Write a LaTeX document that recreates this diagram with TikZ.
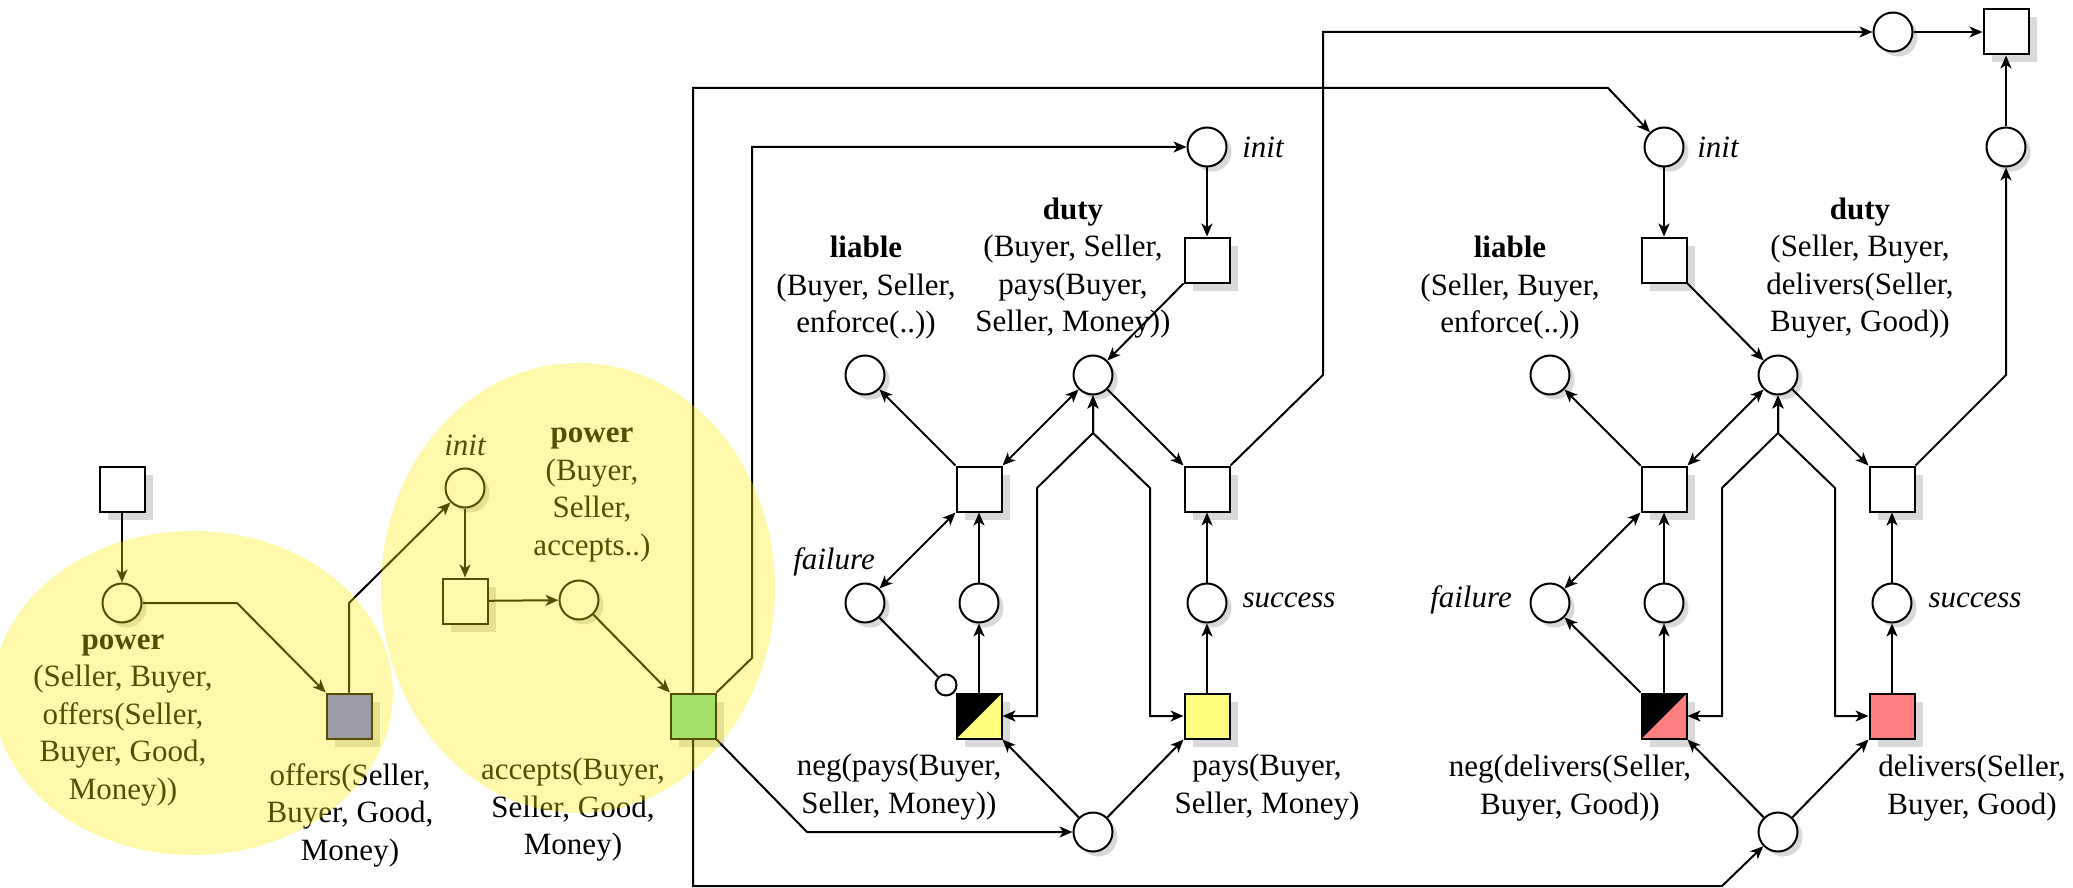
\documentclass[tikz,border=0pt]{standalone}
\usepackage{fontspec}
\setmainfont{Liberation Serif}
\usetikzlibrary{arrows.meta,shadows}
\definecolor{gsq}{RGB}{112,112,250}
\definecolor{gre}{RGB}{117,218,158}
\definecolor{yel}{RGB}{255,255,128}
\definecolor{pnk}{RGB}{255,128,128}
\begin{document}
\begin{tikzpicture}[x=0.5pt,y=-0.5pt,
  txt/.style={font=\fontsize{15.5}{18.75}\selectfont,align=center,inner sep=0pt},
  ln/.style={line width=1pt,draw=black},
  pl/.style={circle,draw,line width=1pt,minimum size=19.5pt,inner sep=0pt,fill=white,
    drop shadow={shadow xshift=2.5pt,shadow yshift=-2.5pt,fill=black!15,opacity=1}},
  tr/.style={rectangle,draw,line width=1pt,minimum size=22.5pt,inner sep=0pt,fill=white,
    drop shadow={shadow xshift=4pt,shadow yshift=-4pt,fill=black!15,opacity=1}},
  negsq/.style={tr,path picture={\fill[black] (path picture bounding box.north west) -- (path picture bounding box.north east) -- (path picture bounding box.south west) -- cycle;}},
  arr/.style={ln,-{Stealth[length=6.5pt,width=5.5pt,inset=1.8pt]}},
  darr/.style={ln,{Stealth[length=6.5pt,width=5.5pt,inset=1.8pt]}-{Stealth[length=6.5pt,width=5.5pt,inset=1.8pt]}},
  hl/.style={fill=yellow,fill opacity=0.33,draw=none}
]
\useasboundingbox (0,0) rectangle (2073,888);
\fill[white] (0,0) rectangle (2073,888);

% ---------- left part ----------
\node[tr] (s0) at (122,489) {};
\node[pl] (p0) at (122,603) {};
\node[tr,fill=gsq] (tg) at (349,716) {};
\node[pl] (pi) at (465,488) {};
\node[tr] (t1) at (465,601) {};
\node[pl] (p1) at (579,600) {};
\node[tr,fill=gre] (gr) at (693,716) {};

\node[txt] (lp0) at (123,720) {\textbf{power}\\(Seller, Buyer,\\offers(Seller,\\Buyer, Good,\\Money))};
\node[txt] (ltg) at (350,815) {offers(Seller,\\Buyer, Good,\\Money)};
\node[txt,font=\fontsize{15.5}{18.75}\selectfont\itshape] (lpi) at (465,445) {init};
\node[txt] (lp1) at (592,495) {\textbf{power}\\(Buyer,\\Seller,\\accepts..)};
\node[txt] (lgr) at (573,810) {accepts(Buyer,\\Seller, Good,\\Money)};

% ---------- middle part (pays) ----------
\node[pl] (i1) at (1207,147) {};
\node[tr] (q1) at (1207,260) {};
\node[pl] (li1) at (865,375) {};
\node[pl] (d1) at (1093,375) {};
\node[tr] (la1) at (979,489) {};
\node[tr] (ra1) at (1207,489) {};
\node[pl] (f1) at (865,603) {};
\node[pl] (m1) at (979,603) {};
\node[pl] (s1) at (1207,603) {};
\node[negsq,fill=yel] (n1) at (979,716) {};
\node[tr,fill=yel] (y1) at (1207,716) {};
\node[pl] (b1) at (1093,832) {};
\node[circle,draw,line width=1pt,minimum size=10.5pt,inner sep=0pt,fill=white] (inh) at (946,685) {};

\node[txt,font=\fontsize{15.5}{18.75}\selectfont\itshape] (li1t) at (1263,147) {init};
\node[txt] (lli1) at (866,288) {\textbf{liable}\\(Buyer, Seller,\\enforce(..))};
\node[txt] (ld1) at (1073,268) {\textbf{duty}\\(Buyer, Seller,\\pays(Buyer,\\Seller, Money))};
\node[txt,font=\fontsize{15.5}{18.75}\selectfont\itshape] (lf1) at (834,562) {failure};
\node[txt,font=\fontsize{15.5}{18.75}\selectfont\itshape] (ls1) at (1289,600) {success};
\node[txt] (ln1) at (899,787) {neg(pays(Buyer,\\Seller, Money))};
\node[txt] (ly1) at (1267,787) {pays(Buyer,\\Seller, Money)};

% ---------- right part (delivers) ----------
\node[pl] (i2) at (1664,147) {};
\node[tr] (q2) at (1664,260) {};
\node[pl] (li2) at (1550,375) {};
\node[pl] (d2) at (1778,375) {};
\node[tr] (la2) at (1664,489) {};
\node[tr] (ra2) at (1892,489) {};
\node[pl] (f2) at (1550,603) {};
\node[pl] (m2) at (1664,603) {};
\node[pl] (s2) at (1892,603) {};
\node[negsq,fill=pnk] (n2) at (1664,716) {};
\node[tr,fill=pnk] (y2) at (1892,716) {};
\node[pl] (b2) at (1778,832) {};

\node[txt,font=\fontsize{15.5}{18.75}\selectfont\itshape] (li2t) at (1718,147) {init};
\node[txt] (lli2) at (1510,288) {\textbf{liable}\\(Seller, Buyer,\\enforce(..))};
\node[txt] (ld2) at (1860,268) {\textbf{duty}\\(Seller, Buyer,\\delivers(Seller,\\Buyer, Good))};
\node[txt,font=\fontsize{15.5}{18.75}\selectfont\itshape] (lf2) at (1471,600) {failure};
\node[txt,font=\fontsize{15.5}{18.75}\selectfont\itshape] (ls2) at (1975,600) {success};
\node[txt] (ln2) at (1570,788) {neg(delivers(Seller,\\Buyer, Good))};
\node[txt] (ly2) at (1972,788) {delivers(Seller,\\Buyer, Good)};

% ---------- top right ----------
\node[pl] (tc) at (1893,32) {};
\node[tr] (ts) at (2006,32) {};
\node[pl] (rc) at (2006,147) {};

% ---------- connectors ----------
\draw[arr] (s0) -- (p0);
\draw[arr] (p0.east) -- (237,603) -- (tg);
\draw[arr] (tg.north) -- (349,603) -- (pi);
\draw[arr] (pi) -- (t1);
\draw[arr] (t1) -- (p1);
\draw[arr] (p1) -- (gr);
\draw[arr] (gr.north east) -- (752,658) -- (752,147) -- (i1);
\draw[arr] (gr.north) -- (693,88) -- (1608,88) -- (i2);
\draw[arr] (gr.south) -- (693,886) -- (1722,886) -- (b2);
\draw[arr] (gr.south east) -- (807,832) -- (b1);

\draw[arr] (i1) -- (q1);
\draw[arr] (q1.south west) -- (d1);
\draw[arr] (la1.north west) -- (li1);
\draw[darr] (la1.north east) -- (d1);
\draw[arr] (d1) -- (ra1.north west);
\draw[darr] (f1) -- (la1.south west);
\draw[arr] (m1) -- (la1);
\draw[arr] (n1) -- (m1);
\draw[ln] (f1) -- (inh);
\draw[arr] (s1) -- (ra1);
\draw[arr] (y1) -- (s1);
\draw[arr] (b1) -- (n1.south east);
\draw[arr] (b1) -- (y1.south west);
\draw[darr] (n1.east) -- (1037,716) -- (1037,488) -- (1093,433) -- (d1.south);
\draw[darr] (y1.west) -- (1150,716) -- (1150,488) -- (1093,433) -- (d1.south);
\draw[arr] (ra1.north east) -- (1323,375) -- (1323,32) -- (tc);

\draw[arr] (i2) -- (q2);
\draw[arr] (q2.south east) -- (d2);
\draw[arr] (la2.north west) -- (li2);
\draw[darr] (la2.north east) -- (d2);
\draw[arr] (d2) -- (ra2.north west);
\draw[darr] (f2) -- (la2.south west);
\draw[arr] (m2) -- (la2);
\draw[arr] (n2) -- (m2);
\draw[arr] (n2.north west) -- (f2);
\draw[arr] (s2) -- (ra2);
\draw[arr] (y2) -- (s2);
\draw[arr] (b2) -- (n2.south east);
\draw[arr] (b2) -- (y2.south west);
\draw[darr] (n2.east) -- (1722,716) -- (1722,488) -- (1778,433) -- (d2.south);
\draw[darr] (y2.west) -- (1835,716) -- (1835,488) -- (1778,433) -- (d2.south);
\draw[arr] (ra2.north east) -- (2006,375) -- (rc);
\draw[arr] (rc) -- (ts);
\draw[arr] (tc) -- (ts);

% ---------- highlight overlays ----------
\path[hl] (193,693) ellipse [x radius=200, y radius=162];
\path[hl] (578,588) ellipse [x radius=197, y radius=225];
\end{tikzpicture}
\end{document}
